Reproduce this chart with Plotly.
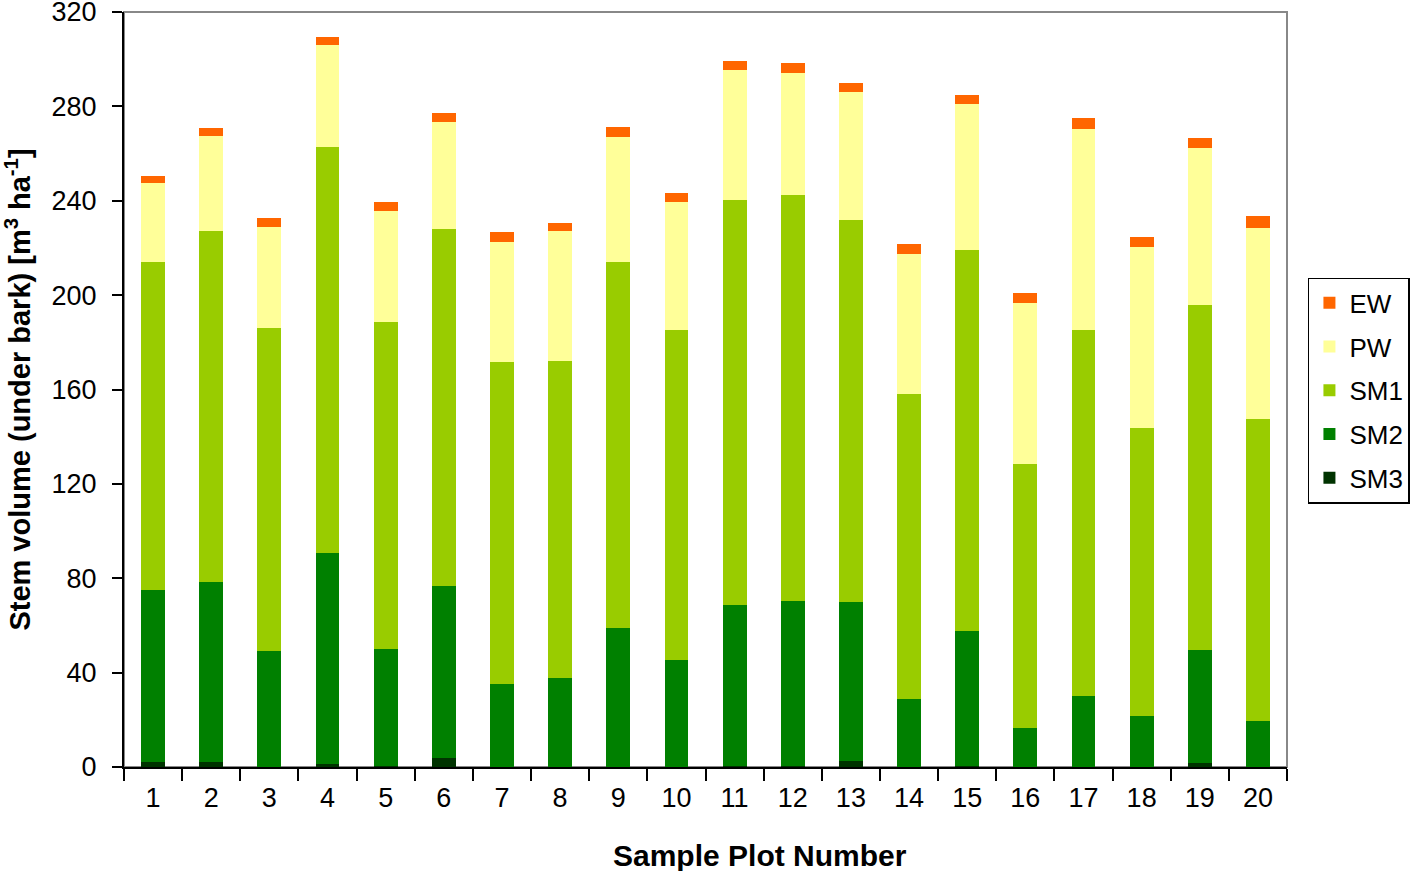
import plotly.graph_objects as go

plots = [str(i) for i in range(1, 21)]

# cumulative stack tops, converted to component values below
sm3 = [2.2, 2.0, 0.0, 1.2, 0.6, 3.8, 0.0, 0.0, 0.0, 0.0,
       0.3, 0.6, 2.7, 0.0, 0.5, 0.0, 0.0, 0.0, 1.8, 0.0]
sm2_top = [75.0, 78.4, 49.2, 90.7, 50.0, 76.7, 35.2, 37.7, 58.9, 45.4,
           68.7, 70.4, 70.0, 28.8, 57.7, 16.5, 30.1, 21.6, 49.6, 19.5]
sm1_top = [214.0, 227.2, 186.0, 262.8, 188.6, 228.0, 171.7, 172.1, 214.0, 185.2,
           240.4, 242.5, 231.9, 158.1, 219.2, 128.4, 185.2, 143.7, 195.8, 147.5]
pw_top = [247.6, 267.5, 229.0, 306.0, 235.7, 273.4, 222.5, 227.2, 267.0, 239.5,
          295.5, 294.2, 286.1, 217.5, 281.0, 196.7, 270.4, 220.4, 262.4, 228.5]
ew_top = [250.5, 270.9, 232.7, 309.4, 239.5, 277.2, 226.8, 230.6, 271.3, 243.3,
          299.3, 298.4, 290.0, 221.7, 284.9, 200.9, 275.1, 224.7, 266.6, 233.6]

sm2 = [round(a - b, 2) for a, b in zip(sm2_top, sm3)]
sm1 = [round(a - b, 2) for a, b in zip(sm1_top, sm2_top)]
pw = [round(a - b, 2) for a, b in zip(pw_top, sm1_top)]
ew = [round(a - b, 2) for a, b in zip(ew_top, pw_top)]

series = [
    ("SM3", sm3, "#003300"),
    ("SM2", sm2, "#008000"),
    ("SM1", sm1, "#99CC00"),
    ("PW", pw, "#FFFF99"),
    ("EW", ew, "#FF6600"),
]

x_title = "Sample Plot Number"
y_title = "Stem volume (under bark) [m<sup>3</sup> ha<sup>-1</sup>]"

font = "Liberation Sans, Arial, sans-serif"

fig = go.Figure()
n = len(series)
for i, (name, vals, col) in enumerate(series):
    fig.add_trace(go.Bar(x=plots, y=vals, name=name, marker_color=col,
                         marker_line_width=0, legendgroup=name,
                         legendrank=1000 + (n - i)))

fig.update_layout(
    width=1418, height=871,
    barmode="stack", bargap=0.59,
    plot_bgcolor="white", paper_bgcolor="white",
    margin=dict(l=124, r=131, t=12, b=104, autoexpand=False),
    font=dict(family=font, size=27, color="black"),
    showlegend=True,
    legend=dict(traceorder="grouped", x=1.018, y=0.648, xanchor="left", yanchor="top",
                bordercolor="black", borderwidth=1.5, font=dict(size=26),
                itemwidth=30, tracegroupgap=7),
    shapes=[dict(type="rect", xref="paper", yref="paper", x0=0, y0=0, x1=1, y1=1,
                 line=dict(color="#888888", width=2), layer="below")],
    annotations=[dict(text=f"<b>{x_title}</b>", xref="paper", yref="paper",
                      x=0.547, y=-0.1166, xanchor="center", yanchor="middle",
                      showarrow=False, font=dict(size=30))],
)
fig.update_xaxes(
    type="category", showline=True, linecolor="black", linewidth=2,
    ticks="outside", tickson="boundaries", ticklen=12, tickwidth=2, tickcolor="black",
    showgrid=False, tickfont=dict(size=27), automargin=False, ticklabelstandoff=6,
)
fig.update_yaxes(
    range=[0, 320], tickvals=list(range(0, 321, 40)),
    showline=True, linecolor="black", linewidth=2,
    ticks="outside", ticklen=10, tickwidth=2, tickcolor="black",
    showgrid=False, zeroline=False, tickfont=dict(size=27), automargin=False,
    ticklabeloverflow="allow", ticklabelstandoff=10,
    title=dict(text=f"<b>{y_title}</b>", font=dict(size=29), standoff=22),
)

fig.write_html("out.html", config={"displayModeBar": False},
               post_script="document.body.style.margin='0';")
